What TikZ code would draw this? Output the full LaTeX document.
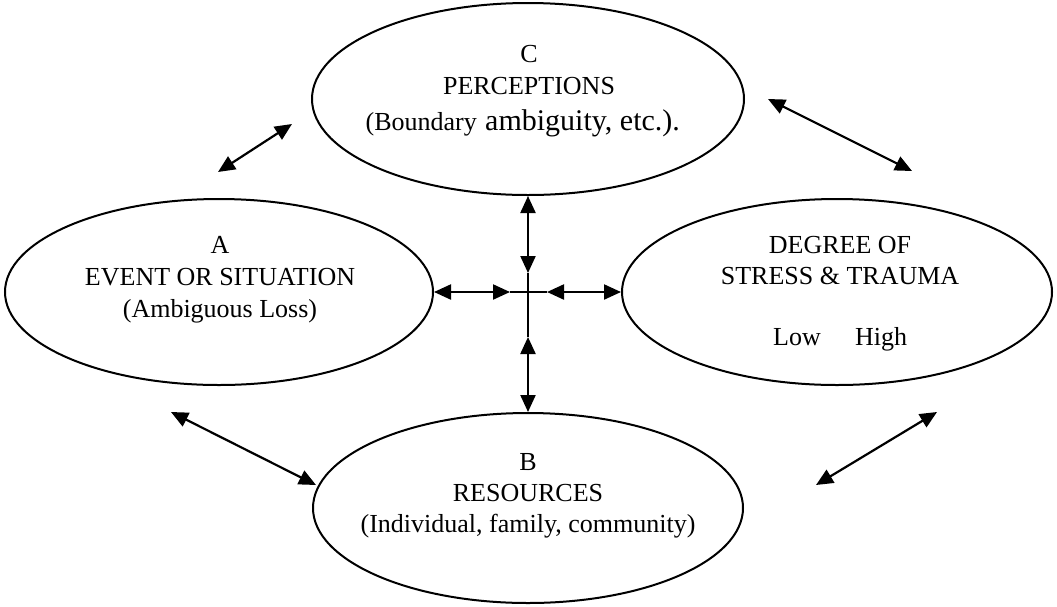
\documentclass[tikz,border=0pt]{standalone}
\usepackage{fontspec}
\setmainfont{Liberation Serif}
\usetikzlibrary{shapes.geometric,arrows.meta}
\begin{document}
\begin{tikzpicture}[x=1pt,y=-1pt,
  oval/.style={draw,ellipse,line width=2pt,inner sep=0pt},
  dbl/.style={line width=2.2pt,{Triangle[length=17pt,width=15pt]}-{Triangle[length=17pt,width=15pt]}},
  plain/.style={line width=2.2pt},
  lbl/.style={anchor=base,inner sep=0pt,font=\fontsize{26}{32}\selectfont}]
\useasboundingbox (0,0) rectangle (1057,606);
% ellipses
\node[oval,minimum width=432pt,minimum height=192pt] (C) at (528,99) {};
\node[oval,minimum width=428pt,minimum height=186pt] (A) at (219,292) {};
\node[oval,minimum width=430pt,minimum height=186pt] (D) at (837,292) {};
\node[oval,minimum width=430pt,minimum height=190pt] (B) at (528,508) {};
% texts C
\node[lbl] (c1) at (529,62) {C};
\node[lbl] (c2) at (529,94) {PERCEPTIONS};
\node[anchor=base east,inner sep=0pt,font=\fontsize{26}{32}\selectfont] (c3a) at (477,130) {(Boundary};
\node[anchor=base west,inner sep=0pt,font=\fontsize{30}{36}\selectfont] (c3b) at (485,130) {ambiguity, etc.).};
% texts A
\node[lbl] (a1) at (220,253) {A};
\node[lbl] (a2) at (220,285) {EVENT OR SITUATION};
\node[lbl] (a3) at (220,317) {(Ambiguous Loss)};
% texts D
\node[lbl] (d1) at (840,253) {DEGREE OF};
\node[lbl] (d2) at (840,284) {STRESS \& TRAUMA};
\node[lbl] (d3) at (797,345) {Low};
\node[lbl] (d4) at (881,345) {High};
% texts B
\node[lbl] (b1) at (528,470) {B};
\node[lbl] (b2) at (528,501) {RESOURCES};
\node[lbl] (b3) at (528,532) {(Individual, family, community)};
% central cross
\coordinate (tD) at (528,273);
\coordinate (tU) at (528,337);
\coordinate (tR) at (510,292);
\coordinate (tL) at (547,292);
\draw[dbl] (C.south) -- (tD);
\draw[dbl] (tU) -- (B.north);
\draw[dbl] (A.east) -- (tR);
\draw[dbl] (tL) -- (D.west);
\draw[plain] (tD) -- (tU);
\draw[plain] (tR) -- (tL);
% diagonal arrows
\coordinate (p1) at (218,172); \coordinate (p2) at (292,124);
\coordinate (p3) at (768,99);  \coordinate (p4) at (912,171);
\coordinate (p5) at (171,412); \coordinate (p6) at (316,485);
\coordinate (p7) at (816,485); \coordinate (p8) at (937,412);
\draw[dbl] (p1) -- (p2);
\draw[dbl] (p3) -- (p4);
\draw[dbl] (p5) -- (p6);
\draw[dbl] (p7) -- (p8);
\end{tikzpicture}
\end{document}
